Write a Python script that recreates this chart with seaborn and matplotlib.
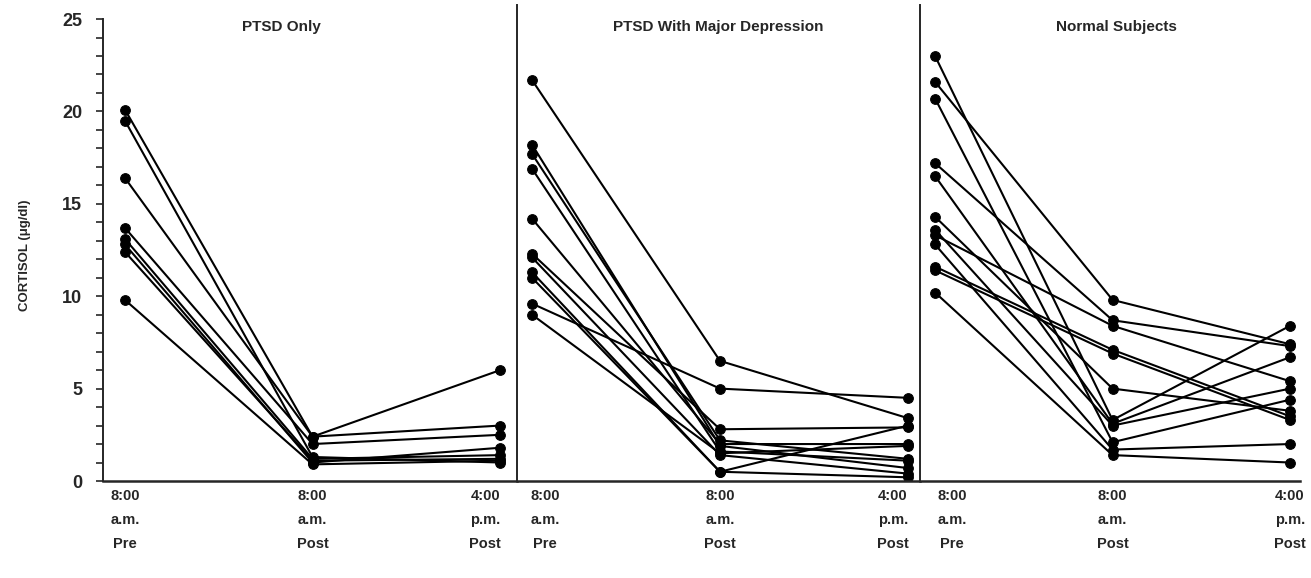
import matplotlib
matplotlib.use('Agg')
import matplotlib.pyplot as plt
from matplotlib.ticker import MultipleLocator
from matplotlib.transforms import ScaledTranslation
import pandas as pd
import seaborn as sns

# panel names and time points
groups = ["PTSD Only", "PTSD With Major Depression", "Normal Subjects"]
time_labels = ["8:00\na.m.\nPre", "8:00\na.m.\nPost", "4:00\np.m.\nPost"]

# cortisol (ug/dl), one entry per subject
ptsd_pre = [20.1, 19.5, 16.4, 13.7, 13.1, 12.8, 12.4, 9.8]
ptsd_post = [2.4, 1.3, 2.4, 2.0, 1.2, 1.0, 1.1, 0.9]
ptsd_pm = [6.0, 1.0, 3.0, 2.5, 1.4, 1.8, 1.2, 1.1]

mdd_pre = [21.7, 18.2, 17.7, 16.9, 14.2, 12.3, 12.1, 11.3, 11.0, 9.6, 9.0]
mdd_post = [6.5, 1.9, 2.2, 1.6, 2.0, 2.8, 1.4, 0.5, 0.5, 5.0, 1.5]
mdd_pm = [3.4, 0.7, 1.2, 1.1, 2.0, 2.9, 0.4, 3.0, 0.2, 4.5, 1.9]

normal_pre = [23.0, 21.6, 20.7, 17.2, 16.5, 14.3, 13.6, 13.3, 12.8, 11.6, 11.4, 10.2]
normal_post = [3.3, 9.8, 2.1, 8.7, 3.1, 5.0, 3.0, 8.4, 1.7, 7.1, 6.9, 1.4]
normal_pm = [8.4, 7.4, 4.4, 7.3, 6.7, 3.8, 5.0, 5.4, 2.0, 3.5, 3.3, 1.0]


def make_frame(pre, post, pm):
	rows = []
	for i, values in enumerate(zip(pre, post, pm)):
		for t, v in enumerate(values):
			rows.append({"subject": i, "time": t, "cortisol": v})
	return pd.DataFrame(rows)


frames = [
	make_frame(ptsd_pre, ptsd_post, ptsd_pm),
	make_frame(mdd_pre, mdd_post, mdd_pm),
	make_frame(normal_pre, normal_post, normal_pm),
]

sns.set_style("ticks")
plt.rcParams['font.family'] = ['Liberation Sans', 'DejaVu Sans']

W, H = 1311, 578
fig = plt.figure(figsize=(W / 100, H / 100), dpi=100)

# pixel boxes of the three panels: left, right, and the x limits
panels = [(103, 517, -0.117, 2.09), (517, 920, -0.08, 2.064), (920, 1300, -0.085, 2.056)]
title_x = [0.43, 0.5, 0.516]
# horizontal nudges (px) of the time labels so neighbouring panels don't collide
label_shift = [(0, 0, -15), (13, 0, -15), (17, 0, 0)]
top_px, bottom_px = 5, 481

for k, (x0, x1, xl, xr) in enumerate(panels):
	ax = fig.add_axes([x0 / W, (H - bottom_px) / H, (x1 - x0) / W, (bottom_px - top_px) / H])
	sns.lineplot(data=frames[k], x="time", y="cortisol", units="subject", estimator=None,
				 marker="o", markersize=7, color="black", markeredgecolor="black",
				 linewidth=1.5, legend=False, ax=ax)
	ax.set_xlim(xl, xr)
	ax.set_ylim(0, 25.76)
	ax.set_xticks([0, 1, 2])
	ax.set_xticklabels(time_labels, fontsize=10.5, fontweight="bold", linespacing=1.9)
	ax.tick_params(axis="x", length=0, pad=6)
	for lab, dx in zip(ax.get_xticklabels(), label_shift[k]):
		lab.set_transform(lab.get_transform() + ScaledTranslation(dx / 100, 0, fig.dpi_scale_trans))
	ax.set_xlabel("")
	ax.set_ylabel("")
	ax.spines["top"].set_visible(False)
	ax.spines["right"].set_visible(False)
	ax.spines["bottom"].set_linewidth(1.8)
	ax.spines["left"].set_linewidth(1.4)
	ax.text(title_x[k], 0.954, groups[k], transform=ax.transAxes, ha="center", va="center",
			fontsize=11, fontweight="bold")
	if k == 0:
		ax.spines["left"].set_bounds(0, 25)
		ax.set_yticks([0, 5, 10, 15, 20, 25])
		ax.yaxis.set_minor_locator(MultipleLocator(1))
		ax.tick_params(axis="y", which="both", length=5, width=1.2, pad=10, labelsize=13)
		for lab in ax.get_yticklabels():
			lab.set_fontweight("bold")
	else:
		ax.set_yticks([])
		ax.tick_params(axis="y", which="both", length=0)

fig.text(25 / W, (H - 255) / H, "CORTISOL (\u03bcg/dl)", rotation=90, ha="center", va="center",
		 fontsize=9.5, fontweight="bold")

plt.savefig("out.png", dpi=100)
